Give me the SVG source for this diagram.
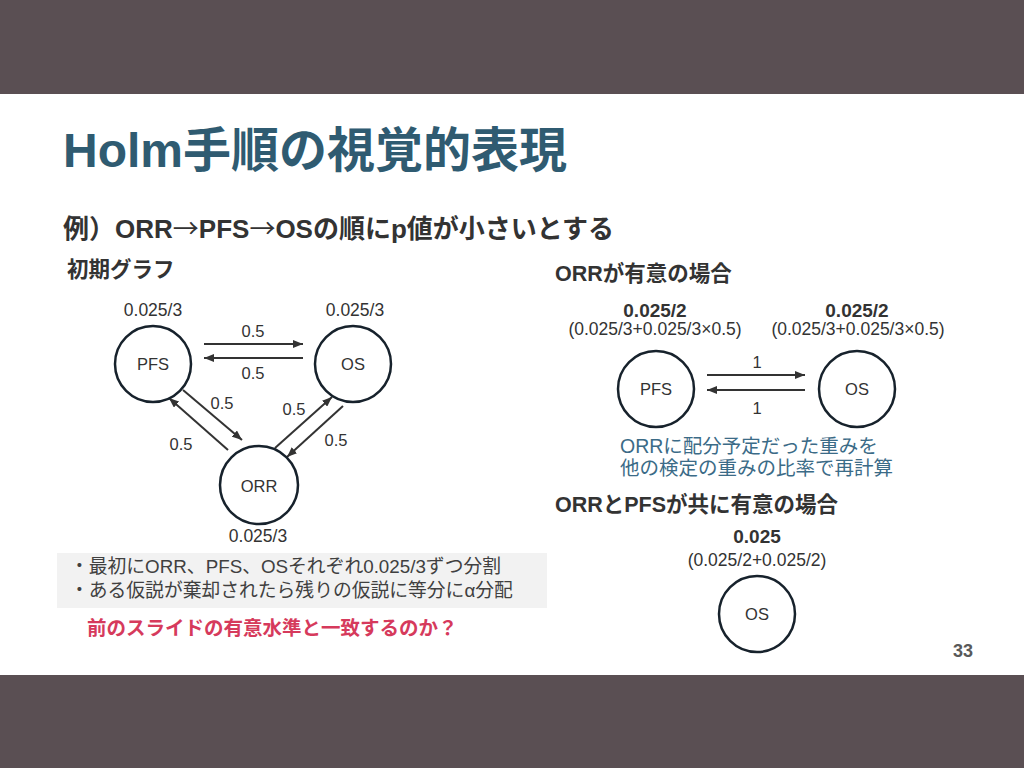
<svg xmlns="http://www.w3.org/2000/svg" width="1024" height="768" viewBox="0 0 1024 768">
<style>
text{font-family:"Liberation Sans","Noto Sans CJK JP",sans-serif;fill:#333}
.title{font-size:48px;font-weight:bold;fill:#2f5b71}
.sub{font-size:26px;font-weight:bold;fill:#333}
.arr{font-family:"Noto Sans CJK JP",sans-serif;font-weight:normal}
.h{font-size:21.5px;font-weight:bold;fill:#333}
.node circle{fill:#fff;stroke:#17222c;stroke-width:2.5}
.node text{font-size:16.5px;text-anchor:middle;fill:#333}
.node text.w{font-size:17.5px}
.node text.wp{font-size:17.5px}
.node text.wb{font-size:19px;font-weight:bold}
.e{font-size:16.5px;text-anchor:middle}
.conn line{stroke:#333;stroke-width:2;marker-end:url(#ah)}
.note{font-size:18.8px;fill:#404040}
.blue{font-size:19.5px;fill:#3b6b87}
.red{font-size:19.5px;font-weight:bold;fill:#d63a5c}
</style>
<defs>
<marker id="ah" viewBox="0 0 10 8" refX="10" refY="4" markerWidth="5" markerHeight="4" orient="auto" markerUnits="strokeWidth">
<path d="M0,0 L10,4 L0,8 z" fill="#333"/>
</marker>
</defs>
<rect x="0" y="0" width="1024" height="768" fill="#fff"/>
<rect x="0" y="0" width="1024" height="94" fill="#5a4f53"/>
<rect x="0" y="675" width="1024" height="93" fill="#5a4f53"/>

<text class="title" x="63" y="167">Holm手順の視覚的表現</text>
<text class="sub" x="63" y="238">例）ORR<tspan class="arr">→</tspan>PFS<tspan class="arr">→</tspan>OSの順にp値が小さいとする</text>
<text class="h" x="67" y="277">初期グラフ</text>

<g id="connectors" class="conn">
<line x1="204" y1="344" x2="303" y2="344"/>
<line x1="303" y1="358" x2="204" y2="358"/>
<line x1="183" y1="390" x2="242" y2="440"/>
<line x1="228" y1="450" x2="169" y2="398"/>
<line x1="275" y1="448" x2="332" y2="397"/>
<line x1="343" y1="406" x2="287" y2="457"/>
<line x1="707" y1="375" x2="805" y2="375"/>
<line x1="805" y1="390" x2="707" y2="390"/>
</g>

<g id="edge-labels">
<text class="e" x="253" y="337">0.5</text>
<text class="e" x="253" y="379">0.5</text>
<text class="e" x="222" y="409">0.5</text>
<text class="e" x="181" y="450">0.5</text>
<text class="e" x="294" y="415">0.5</text>
<text class="e" x="336" y="446">0.5</text>
<text class="e" x="757" y="368">1</text>
<text class="e" x="757" y="414">1</text>
</g>

<g id="node-pfs" class="node">
<text class="w" x="153" y="316">0.025/3</text>
<circle cx="153" cy="364" r="38"/>
<text x="153" y="370">PFS</text>
</g>
<g id="node-os" class="node">
<text class="w" x="355" y="316">0.025/3</text>
<circle cx="353" cy="364" r="38"/>
<text x="353" y="370">OS</text>
</g>
<g id="node-orr" class="node">
<circle cx="259" cy="485" r="39"/>
<text x="259" y="492">ORR</text>
<text class="w" x="258" y="542">0.025/3</text>
</g>

<g id="notes">
<rect x="57" y="553" width="490" height="55" fill="#f2f2f2"/>
<text class="note" x="70" y="573">・最初にORR、PFS、OSそれぞれ0.025/3ずつ分割</text>
<text class="note" x="70" y="597">・ある仮説が棄却されたら残りの仮説に等分にα分配</text>
<text class="red" x="87" y="635">前のスライドの有意水準と一致するのか？</text>
</g>

<text class="h" x="555" y="281">ORRが有意の場合</text>
<g id="node-pfs2" class="node">
<text class="wb" x="655" y="317">0.025/2</text>
<text class="wp" x="655" y="335">(0.025/3+0.025/3×0.5)</text>
<circle cx="656" cy="389" r="38"/>
<text x="656" y="395">PFS</text>
</g>
<g id="node-os2" class="node">
<text class="wb" x="857" y="317">0.025/2</text>
<text class="wp" x="858" y="335">(0.025/3+0.025/3×0.5)</text>
<circle cx="857" cy="389" r="38"/>
<text x="857" y="395">OS</text>
</g>
<text class="blue" x="620" y="453">ORRに配分予定だった重みを</text>
<text class="blue" x="620" y="475">他の検定の重みの比率で再計算</text>

<text class="h" x="555" y="512">ORRとPFSが共に有意の場合</text>
<g id="node-os3" class="node">
<text class="wb" x="757" y="543">0.025</text>
<text class="w" x="757" y="566">(0.025/2+0.025/2)</text>
<circle cx="757" cy="614" r="38"/>
<text x="757" y="620">OS</text>
</g>

<text x="973" y="657" text-anchor="end" style="font-size:18px;font-weight:bold;fill:#595959">33</text>
</svg>
